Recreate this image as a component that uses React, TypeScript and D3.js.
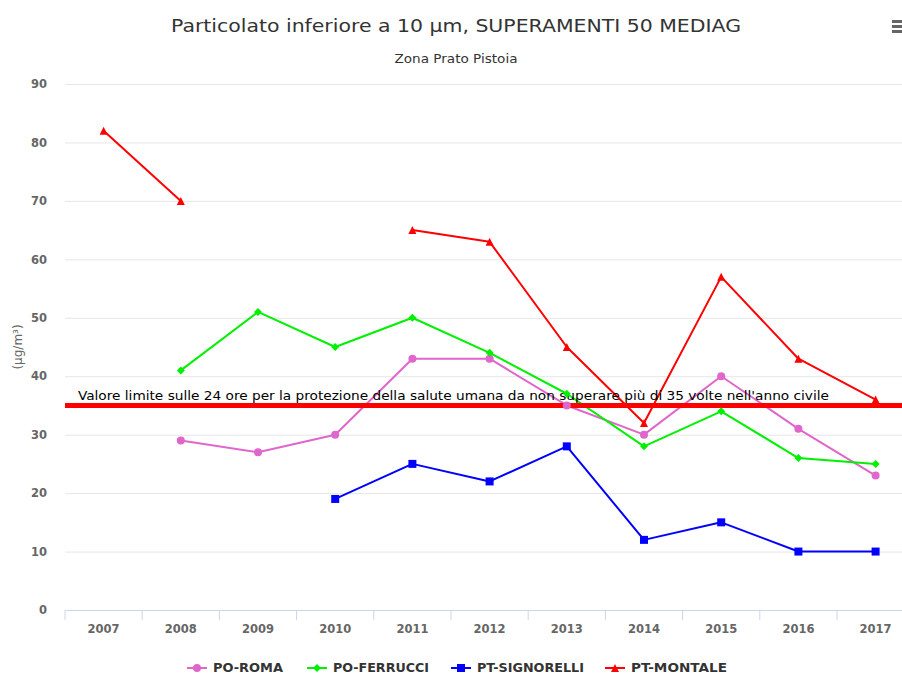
import React, { useEffect, useRef } from 'react';
import * as d3 from 'd3';

// chart data
const years = ['2007', '2008', '2009', '2010', '2011', '2012', '2013', '2014', '2015', '2016', '2017'];
const poRoma = [null, 29, 27, 30, 43, 43, 35, 30, 40, 31, 23];
const poFerrucci = [null, 41, 51, 45, 50, 44, 37, 28, 34, 26, 25];
const ptSignorelli = [null, null, null, 19, 25, 22, 28, 12, 15, 10, 10];
const ptMontale = [82, 70, null, null, 65, 63, 45, 32, 57, 43, 36];
const yTicks = [0, 10, 20, 30, 40, 50, 60, 70, 80, 90];
const limitValue = 35;
const limitLabel = "Valore limite sulle 24 ore per la protezione della salute umana da non superare più di 35 volte nell'anno civile";

const series = [
  { name: 'PO-ROMA', values: poRoma, color: '#e066cc', symbol: 'circle' },
  { name: 'PO-FERRUCCI', values: poFerrucci, color: '#00f000', symbol: 'diamond' },
  { name: 'PT-SIGNORELLI', values: ptSignorelli, color: '#0000ff', symbol: 'square' },
  { name: 'PT-MONTALE', values: ptMontale, color: '#ff0000', symbol: 'triangle' },
];

const W = 902;
const H = 675;
const FONT = '"Lucida Grande", "DejaVu Sans", Arial, sans-serif';

function markerPath(sym: string) {
  const r = 4;
  if (sym === 'circle') return d3.symbol(d3.symbolCircle, Math.PI * r * r)() ?? '';
  if (sym === 'square') return `M${-r},${-r}H${r}V${r}H${-r}Z`;
  if (sym === 'diamond') return `M0,${-r}L${r},0L0,${r}L${-r},0Z`;
  return `M0,${-r}L${r},${r}L${-r},${r}Z`;
}

const App = () => {
  const ref = useRef<SVGSVGElement | null>(null);

  useEffect(() => {
    const svg = d3.select(ref.current);
    svg.selectAll('*').remove();

    const left = 65;
    const step = 77.2;
    const x = d3.scaleBand<string>().domain(years).range([left, left + step * years.length]).padding(0);
    const y = d3.scaleLinear().domain([0, 90]).range([610, 84]);
    const cx = (i: number) => (x(years[i]) ?? 0) + x.bandwidth() / 2;

    svg.append('rect').attr('width', W).attr('height', H).attr('fill', '#fff');

    // title
    svg.append('text').attr('x', 456).attr('y', 32).attr('text-anchor', 'middle')
      .attr('font-family', FONT).attr('font-size', 18).attr('fill', '#333')
      .attr('textLength', 570).attr('lengthAdjust', 'spacingAndGlyphs')
      .text('Particolato inferiore a 10 µm, SUPERAMENTI 50 MEDIAG');
    svg.append('text').attr('x', 456).attr('y', 63).attr('text-anchor', 'middle')
      .attr('font-family', FONT).attr('font-size', 12).attr('fill', '#333')
      .attr('textLength', 123).attr('lengthAdjust', 'spacingAndGlyphs')
      .text('Zona Prato Pistoia');

    // menu icon
    [21, 26, 31].forEach(yy => {
      svg.append('rect').attr('x', 892).attr('y', yy - 1).attr('width', 10).attr('height', 3).attr('fill', '#666');
    });

    // grid
    const yAxis = d3.axisLeft(y).tickValues(yTicks).tickSize(-(W - left + 20)).tickPadding(18);
    const gy = svg.append('g').attr('transform', `translate(${left},0)`).call(yAxis);
    gy.select('.domain').remove();
    gy.selectAll('.tick line').attr('stroke', '#e6e6e6');
    gy.selectAll('.tick').filter((d: any) => d === 0).select('line').remove();
    gy.selectAll('.tick text').attr('font-family', FONT).attr('font-size', 11.5)
      .attr('font-weight', 'bold').attr('fill', '#666');

    svg.append('text').attr('transform', 'translate(22,347) rotate(-90)')
      .attr('text-anchor', 'middle').attr('font-family', FONT).attr('font-size', 12)
      .attr('fill', '#666').text('(µg/m³)');

    // x axis
    const gx = svg.append('g').attr('transform', 'translate(0,610)')
      .call(d3.axisBottom(x).tickSize(0).tickPadding(15));
    gx.select('.domain').attr('stroke', '#ccd6eb');
    gx.selectAll('.tick text').attr('font-family', FONT).attr('font-size', 11.5)
      .attr('font-weight', 'bold').attr('fill', '#666');
    years.forEach(yr => {
      const bx = x(yr) ?? 0;
      gx.append('line').attr('x1', bx).attr('x2', bx).attr('y1', 0).attr('y2', 10).attr('stroke', '#ccd6eb');
    });

    // series lines
    const line = d3.line<number | null>()
      .defined(d => d !== null)
      .x((_, i) => cx(i))
      .y(d => y(d as number));

    series.forEach(s => {
      svg.append('path').datum(s.values).attr('d', line).attr('fill', 'none')
        .attr('stroke', s.color).attr('stroke-width', 2).attr('stroke-linejoin', 'round');
    });

    // plot line
    svg.append('line').attr('x1', left).attr('x2', W).attr('y1', y(limitValue)).attr('y2', y(limitValue))
      .attr('stroke', '#ff0000').attr('stroke-width', 5);
    svg.append('text').attr('x', 78).attr('y', y(limitValue) - 5)
      .attr('font-family', '"Liberation Sans Narrow", "DejaVu Sans Condensed", Arial, sans-serif')
      .attr('font-size', 13).attr('fill', '#000')
      .attr('textLength', 751).attr('lengthAdjust', 'spacingAndGlyphs')
      .text(limitLabel);

    // markers
    series.forEach(s => {
      s.values.forEach((v, i) => {
        if (v === null) return;
        svg.append('path').attr('d', markerPath(s.symbol))
          .attr('transform', `translate(${cx(i)},${y(v)})`).attr('fill', s.color);
      });
    });

    // legend
    const legendX = [187, 307, 451, 605];
    const legendW = [70, 96, 107, 96];
    series.forEach((s, k) => {
      const g = svg.append('g').attr('transform', `translate(${legendX[k]},668)`);
      g.append('line').attr('x1', 0).attr('x2', 20).attr('y1', 0).attr('y2', 0)
        .attr('stroke', s.color).attr('stroke-width', 2);
      g.append('path').attr('d', markerPath(s.symbol)).attr('transform', 'translate(10,0)').attr('fill', s.color);
      g.append('text').attr('x', 26).attr('y', 4).attr('font-family', FONT).attr('font-size', 12)
        .attr('font-weight', 'bold').attr('fill', '#333')
        .attr('textLength', legendW[k]).attr('lengthAdjust', 'spacingAndGlyphs')
        .text(s.name);
    });
  }, []);

  return (
    <svg ref={ref} width={W} height={H}
      style={{ position: 'absolute', left: 0, top: 0, display: 'block' }} />
  );
};

export default App;
